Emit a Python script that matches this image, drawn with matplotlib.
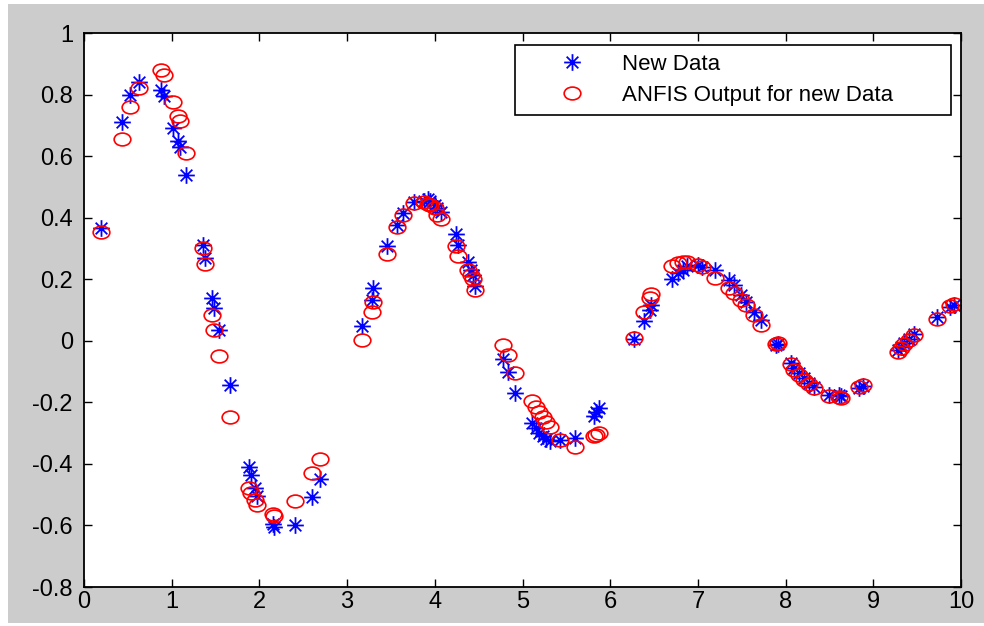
import numpy as np
import matplotlib.pyplot as plt
from matplotlib.path import Path
from matplotlib.transforms import Affine2D
from matplotlib.patches import Rectangle
from matplotlib.ticker import FuncFormatter

plt.rcParams['font.family'] = ['Liberation Sans', 'DejaVu Sans']
plt.rcParams['axes.unicode_minus'] = False

# input points (x) with the measured data and the ANFIS prediction
x_new = [0.19, 0.43, 0.525, 0.63, 0.88, 0.91, 1.02, 1.07, 1.09, 1.16,
         1.36, 1.38, 1.46, 1.48, 1.54, 1.66, 1.88, 1.90, 1.95, 1.97,
         2.15, 2.17, 2.41, 2.60, 2.69,
         3.17, 3.28, 3.29, 3.46, 3.57, 3.64, 3.76, 3.88, 3.92, 3.95,
         4.00, 4.03, 4.07, 4.24, 4.27, 4.38, 4.41, 4.43, 4.46,
         4.78, 4.83, 4.92, 5.11, 5.15, 5.19, 5.23, 5.27, 5.31, 5.43,
         5.60, 5.81, 5.84, 5.87,
         6.27, 6.38, 6.45, 6.47, 6.70, 6.77, 6.83, 6.88, 7.00, 7.05,
         7.20, 7.35, 7.41, 7.49, 7.55, 7.64, 7.72, 7.89, 7.91, 8.06,
         8.10, 8.15, 8.21, 8.27, 8.32, 8.49, 8.61, 8.63, 8.84, 8.88,
         9.28, 9.32, 9.35, 9.41, 9.46, 9.73, 9.87, 9.92]

y_new = [0.365, 0.71, 0.80, 0.84, 0.815, 0.795, 0.69, 0.65, 0.63, 0.54,
         0.31, 0.27, 0.14, 0.105, 0.035, -0.144, -0.41, -0.436, -0.478, -0.504,
         -0.595, -0.605, -0.60, -0.508, -0.449,
         0.047, 0.133, 0.172, 0.308, 0.376, 0.414, 0.451, 0.455, 0.46, 0.455,
         0.44, 0.43, 0.42, 0.347, 0.311, 0.256, 0.23, 0.213, 0.178,
         -0.059, -0.10, -0.17, -0.268, -0.285, -0.30, -0.31, -0.318, -0.325, -0.322,
         -0.317, -0.245, -0.232, -0.22,
         0.005, 0.064, 0.10, 0.115, 0.20, 0.22, 0.23, 0.243, 0.246, 0.24,
         0.23, 0.197, 0.18, 0.148, 0.126, 0.093, 0.067, -0.014, -0.01, -0.073,
         -0.09, -0.106, -0.122, -0.138, -0.151, -0.176, -0.175, -0.18, -0.154, -0.146,
         -0.03, -0.02, -0.008, 0.006, 0.022, 0.077, 0.11, 0.116]

y_anfis = [0.355, 0.655, 0.76, 0.82, 0.88, 0.865, 0.775, 0.73, 0.715, 0.61,
           0.30, 0.25, 0.085, 0.035, -0.05, -0.248, -0.478, -0.495, -0.517, -0.533,
           -0.562, -0.57, -0.52, -0.43, -0.384,
           0.003, 0.093, 0.126, 0.282, 0.37, 0.41, 0.447, 0.45, 0.445, 0.44,
           0.43, 0.41, 0.395, 0.308, 0.275, 0.23, 0.213, 0.2, 0.165,
           -0.014, -0.046, -0.104, -0.196, -0.216, -0.23, -0.247, -0.264, -0.28, -0.322,
           -0.345, -0.31, -0.305, -0.30,
           0.009, 0.093, 0.14, 0.152, 0.243, 0.252, 0.256, 0.256, 0.246, 0.24,
           0.203, 0.17, 0.155, 0.133, 0.116, 0.083, 0.052, -0.012, -0.008, -0.075,
           -0.095, -0.11, -0.128, -0.14, -0.155, -0.178, -0.183, -0.185, -0.15, -0.145,
           -0.035, -0.022, -0.01, 0.004, 0.02, 0.072, 0.112, 0.118]

y_ticks = [-0.8, -0.6, -0.4, -0.2, 0, 0.2, 0.4, 0.6, 0.8, 1]
x_ticks = list(range(0, 11))

# matlab style asterisk: + and x overlaid
d = 0.7
star_verts = [(-1, 0), (1, 0), (0, -1), (0, 1), (-d, -d), (d, d), (-d, d), (d, -d)]
star_codes = [Path.MOVETO, Path.LINETO] * 4
star = Path(star_verts, star_codes)

# circles look a bit wider than tall in the original
ring = Path.unit_circle().transformed(Affine2D().scale(1.3, 1.0))

fig = plt.figure(figsize=(9.84, 6.26), dpi=100)
fig.patch.set_facecolor('white')
fig.add_artist(Rectangle((8 / 984, 3 / 626), 976 / 984, 619 / 626,
                         transform=fig.transFigure, facecolor='#cccccc',
                         edgecolor='none', zorder=-10))

ax = fig.add_axes([84 / 984, 39 / 626, 877 / 984, 554 / 626])
ax.set_facecolor('white')

ax.plot(x_new, y_new, linestyle='none', marker=star, markersize=12,
        markeredgecolor='blue', markerfacecolor='none', markeredgewidth=1.3,
        label='New Data')
ax.plot(x_new, y_anfis, linestyle='none', marker=ring, markersize=12,
        markeredgecolor='red', markerfacecolor='none', markeredgewidth=1.2,
        label='ANFIS Output for new Data')

ax.set_xlim(0, 10)
ax.set_ylim(-0.8, 1)
ax.set_xticks(x_ticks)
ax.set_yticks(y_ticks)
ax.yaxis.set_major_formatter(FuncFormatter(lambda v, p: '%g' % round(v, 2)))

ax.tick_params(direction='in', length=6, width=1, top=True, right=True,
               labelsize=17, colors='black')
ax.tick_params(axis='x', pad=3)
ax.tick_params(axis='y', pad=8)
for s in ax.spines.values():
    s.set_linewidth(1.3)
    s.set_color('black')

leg = ax.legend(loc='upper left', mode='expand',
                bbox_to_anchor=(515 / 984, 1 - 45 / 626 - 0.01, 436 / 984, 0.01),
                bbox_transform=fig.transFigure, borderaxespad=0,
                fontsize=16, numpoints=1, fancybox=False, framealpha=1,
                handlelength=4.3, handletextpad=0.1, borderpad=0.4,
                labelspacing=0.45)
leg.get_frame().set_edgecolor('black')
leg.get_frame().set_linewidth(1.2)

fig.savefig('out.png', dpi=100)
